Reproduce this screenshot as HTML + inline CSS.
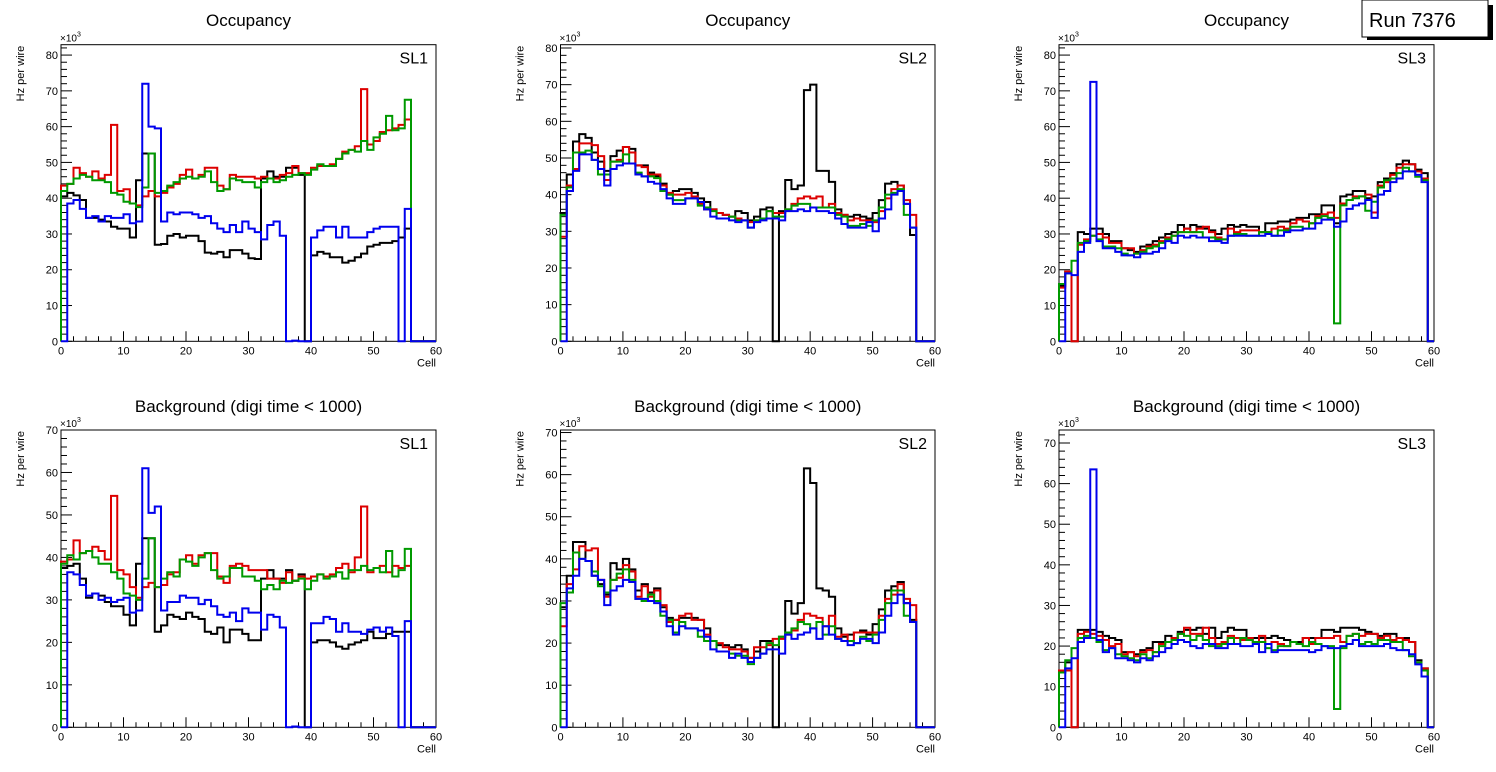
<!DOCTYPE html>
<html><head><meta charset="utf-8"><style>
html,body{margin:0;padding:0;background:#fff;}
svg{display:block;font-family:"Liberation Sans",Arial,sans-serif;}
</style></head><body>
<svg id="c" width="1496" height="772" viewBox="0 0 1496 772" xmlns="http://www.w3.org/2000/svg">
<rect x="0" y="0" width="1496" height="772" fill="#fff"/>
<g>
<rect x="1367" y="5" width="126" height="35" fill="#000"/>
<rect x="1362" y="0" width="126" height="37" fill="#fff" stroke="#000" stroke-width="1"/>
<text x="1369" y="27" font-size="20">Run 7376</text>
</g>
</svg>
<script>
// ---- data (values in units of 10^3 Hz per wire), bins 0..59 ----
const cells = Array.from({length:60},(_,i)=>i);
const xTicks = [0,10,20,30,40,50,60];
const panelTitles = ["Occupancy","Occupancy","Occupancy","Background (digi time < 1000)","Background (digi time < 1000)","Background (digi time < 1000)"];
const slLabels = ["SL1","SL2","SL3","SL1","SL2","SL3"];
const yMaxes = [82.9,80.9,82.9,70,70.6,73.2];

const p1Black=[40.5,41.5,40.8,39.5,34.5,34.5,34,33.5,32,31.5,31.5,29,45,52.5,52.5,27,27.2,29.5,30,29,29.5,29.5,28,24.8,24.5,25,23.5,25.5,25.5,24.5,23.2,23,45.5,47.5,46,46,48.5,48.5,46.5,0,24,25,24.5,23.5,23.5,22,22.5,23.5,24.5,26.5,27,27.5,27.5,28,29,31.5];
const p1Red=[43.5,44,48.5,47,46,47.5,45.5,46.5,60.5,42,42.5,38.5,38,40.5,42,40.5,41.5,43,44,46.5,48,45.5,46.5,48.5,48.5,43.5,42.5,46.5,46,46,46,45.5,46,45.5,45.5,46.5,47,49,47,47,48.5,49,49,49.5,51,53,53.5,54.5,70.5,55,56,58.5,59,59.5,60.5,62];
const p1Green=[42,44,45.5,46.5,46,45,45,44.5,41.5,41,39,38.5,37.5,43,52.5,41.5,42,43.5,44.5,45.5,46,45.5,46,47.5,44.5,42,42.5,45.5,45,44.5,44.5,43,44.5,45.5,44.5,45,46,46.5,47,46.5,48,49.5,49,49,51,52.5,53.5,53,56,53.5,57,58,63,59,59.5,67.5];
const p1Blue=[0,38.5,39.5,37,34.5,35,33.5,35,34.5,34.5,35.5,33,33.5,72,60,59.5,33.5,36,35.5,36,36,35.5,34.5,35,33,31.5,30.5,32.5,30.5,33.5,31.5,30.5,28.5,32.5,33.5,29.5,0,0.2,0,0,29,31,32,32,29,32,29,29,29,30.5,31.5,32,32,32,0,37];

const p2Black=[35,45.5,54.5,56.5,55.5,51.5,49,46.5,50.5,52,53,52.5,48,48,46,45,43,40,41,41.5,41.5,40.5,39,38,36,35,34.5,34,35.5,35,33,34,36,36.5,0,35.5,44,41.5,42.5,68.5,70,46.5,46.5,43.5,36,34.5,34,34.5,34,33.5,35,38.5,43,43.5,42.5,37.5,29];
const p2Red=[28.5,42.5,47,54,54,53.5,50.5,44,49,49.5,53,51.5,48,47.5,45.5,45.5,42.5,40.5,40,40,40.5,39.5,37.5,36,36,35,34.5,34,33.5,33,32.5,33,33.5,35.5,35,35,36,37.5,39,39.5,39,39.5,36.5,37.5,35,34.5,33,33.5,33,33,32.5,35.5,39,41.5,42.5,38.5,34.5];
const p2Green=[34.5,42,51.5,51.5,52,49.5,45.5,45.5,49,49,51,48.5,46,45,45,44.5,41,40,38.5,38.5,39,39,37,36.5,35.5,33.5,33.5,34,33,33,31,33,33.5,35.5,34,34,36,37,37.5,37.5,36.5,36.5,36.5,36.5,34.5,34,31.5,31.5,32,31.5,33,36.5,40,40.5,41.5,34.5,31];
const p2Blue=[0,41,46.5,51,51,49.5,47,42.5,47,48,48.5,48.5,45.5,45,43.5,43,41.5,39,37.5,37.5,39,39,38,36,34,33.5,33.5,33,32.5,33,31,32.5,33,33.5,33.5,33,35.5,35.5,36,35.5,36.5,35.5,35.5,35,33.5,32,31,31,31,32.5,30,33.5,36,40,41,37.5,31];

const p3Black=[15.5,19.5,0,30.5,30,31.5,31.5,30,28,28,26,25.5,25,26.5,27,28,29,30,30.5,32.5,31.5,32.5,32,31.5,31,30,31.5,32.5,32,32.5,32,32,30.5,33,33,33.5,33.5,34,34.5,34.5,35.5,35.5,38,38,33,40.5,41,42,42,40,40.5,44.5,45.5,47,49.5,50.5,49.5,48,47];
const p3Red=[15,19.5,0,27,28.5,29.5,30,29,27.5,27.5,26,26,24.5,25.5,26.5,27,28,29,29.5,30.5,31.5,30.5,31.5,32,30.5,29,28.5,31.5,30.5,31,31,31,30.5,30.5,31.5,32,31.5,33,34,33.5,33,35,35.5,36,34.5,38.5,39.5,40.5,40.5,41,36,43.5,44.5,46.5,48.5,49.5,49.5,47.5,45.5];
const p3Green=[16,19,22.5,27.5,28,29.5,28.5,26.5,26.5,26,24.5,24,24.5,25,26,26.5,27.5,28.5,29.5,30.5,30.5,30.5,30.5,29,29,28.5,28.5,29.5,30,30,29.5,29.5,30.5,30.5,29.5,31,31,32,32,31.5,33,34.5,35,34.5,5,38,39.5,40,40.5,36.5,39,43,45,45.5,47,48.5,47.5,46,45];
const p3Blue=[0,19,18.5,25,27.5,72.5,28,26,26,25,24,24,23.5,24.5,24.5,25,26,28,27.5,29.5,29,29.5,29,29,28,28,27.5,29.5,29.5,29.5,29.5,29.5,29.5,30,29.5,29.5,30.5,31,31,31.5,31.5,33,34,34,32,33.5,37,38,38.5,39.5,34.5,41,42,44.5,45.5,47.5,47.5,46.5,44.5];

const p4Black=[37.5,38,38.5,35,30.5,31.5,31,29.5,28.5,28.5,26.5,24,38.5,44.5,44.5,22.5,24,26.5,26,25.5,27,26,25.5,22.5,22,23.5,20,23,23,22,20.5,20.5,35,37,35,35,37,34.5,36,0,20,20.5,20.5,20,19,18.5,19.5,20,20.5,22.5,21,21,22,22.5,22.5,22.5];
const p4Red=[39,39.5,44,41,41.5,42.5,41.5,39.5,54.5,37,36,33,30.5,33,34,33,33.5,36,36.5,39.5,40.5,38.5,40.5,41,41,35.5,34,38,38.5,38,37,37,37,35,35,34,36.5,34.5,35.5,35,35.5,36,35.5,36,37.5,38.5,36.5,40,52,36.5,37.5,38,36.5,38,37.5,38];
const p4Green=[38.5,40.5,39.5,41,41.5,40,38.5,38.5,36.5,35,31.5,31,30,35,44.5,33,35,36.5,35.5,39.5,39,38,40,41,37,35,35.5,37.5,37.5,35.5,35.5,34.5,32.5,33.5,32.5,34.5,34,34.5,35,32.5,34.5,36,35,35.5,36.5,35,37,37,38,37,37.5,36.5,41.5,35.5,37,42];
const p4Blue=[0,36.5,36,33.5,31,31.5,30,30.5,29.5,30,30.5,27,27.5,61,50.5,52,27.5,29.5,29.5,31,30.5,30.5,29,30,28.5,26.5,26,27,25,28,27,27,23,26.5,26,23.5,0,0.2,0,0,24.5,24.5,26,25.5,22.5,24.5,22.5,22.5,22,23,23.5,22.5,23.5,21.5,0,25];

const p5Black=[28.5,36,44,44,39.5,36,34,31.5,39,37.5,40,37.5,32.5,34,32,33,28.5,26,25.5,26,26,26,25.5,23.5,20.5,19.5,19.5,19,19.5,18.5,16.5,18,20.5,20.5,0,21.5,30,27,29.5,61.5,58,33,32.5,31,23.5,21.5,22,22.5,23,22,24.5,28,32.5,33.5,34.5,29.5,25.5];
const p5Red=[24,34,37.5,43,42,42.5,35,31,35,35.5,38.5,37,31,33.5,31,32.5,29,25,25.5,26.5,27,25.5,25.5,22,20.5,20,19,18.5,18.5,18,16.5,19,19,19.5,21,21,22,23,25.5,27,26.5,26,24,26.5,21.5,22,20.5,22.5,22.5,22.5,22.5,26.5,30.5,31.5,34,30.5,29];
const p5Green=[29.5,32,41.5,40,39.5,37,33.5,32,35,36.5,37.5,35,30.5,30,31.5,30,26.5,25.5,22.5,25,23.5,23.5,21.5,20.5,20.5,18,18,17.5,17,17,15,16.5,17.5,20,19.5,21.5,22.5,23.5,25,24.5,23.5,25,22,24,21,20.5,20.5,20,21.5,20.5,22,25.5,29.5,32.5,32.5,26.5,25];
const p5Blue=[0,33,36,40,39.5,36,35,29,32.5,33.5,35,34.5,30.5,30.5,30,29.5,27.5,24,22,24,23.5,23.5,23,21.5,18.5,18,18,16.5,17.5,16.5,15.5,16.5,17.5,18.5,18.5,17.5,22,21,22,22.5,23.5,21,24,22,21,20.5,19.5,20,21,21,20,22.5,26.5,29.5,31.5,29.5,25];

const p6Black=[13.5,16,0,24,24,24,23.5,22.5,22,21.5,18.5,18.5,18,19,19.5,21,21,22.5,22,23.5,24,24,24.5,23,24.5,22,23.5,24.5,24,24,22,22,22,22,22.5,22,21.5,21,21,22,22,22,24,24,23.5,24.5,24.5,24.5,24,23.5,23,22.5,23,23,22,22,21,16.5,14.5];
const p6Red=[14,14,0,23,23.5,23,22.5,21.5,20,20.5,18,18.5,17.5,18.5,19,18.5,20.5,21,22,23,24.5,23,23,24.5,22,20.5,21,22.5,22,21.5,22,21,22.5,20.5,21,20.5,20,21,20.5,22,20.5,22,22,22,22.5,21,22.5,23,22.5,23,23,22,22.5,21.5,22,21.5,21,16,14.5];
const p6Green=[13.5,16.5,19.5,22,22.5,22,21,19,19.5,18,17.5,17,16.5,18,17,18.5,20,21,21.5,23,22.5,21.5,22.5,21.5,20,20,20.5,22,20.5,22,21.5,21,21,19.5,19,20,20,21,20.5,20,21,20.5,20,20,4.5,19.5,22.5,23,20.5,21,20.5,21.5,21.5,21,21,19,17.5,16,14];
const p6Blue=[0,14.5,17,21,22,63.5,21.5,18.5,19.5,17,17,16.5,16,17,16.5,17.5,18.5,19.5,20.5,21.5,21,20,19.5,20.5,20.5,19.5,19.5,20.5,20.5,20,20,20.5,18.5,20.5,18.5,19,19,19,19,19,18.5,19,20,19.5,19.5,20,20.5,21.5,20,20,20,20,20.5,19.5,19,19,18,15.5,12.5];

const seriesColors=["#000000","#dd0000","#009900","#0000ee"];
const seriesNames=["black","red","green","blue"];
const panelData=[[p1Black,p1Red,p1Green,p1Blue],[p2Black,p2Red,p2Green,p2Blue],[p3Black,p3Red,p3Green,p3Blue],[p4Black,p4Red,p4Green,p4Blue],[p5Black,p5Red,p5Green,p5Blue],[p6Black,p6Red,p6Green,p6Blue]];

const NS="http://www.w3.org/2000/svg";
const svg=document.getElementById('c');
const runBox=svg.lastElementChild;
function mk(tag,attrs,parent){const e=document.createElementNS(NS,tag);for(const k in attrs)e.setAttribute(k,attrs[k]);parent.appendChild(e);return e;}

const padX=[[61,436],[560.5,935],[1059,1434]];
const padY=[[44.7,341.3],[430,727.3]];

panelData.forEach((series,pi)=>{
  const col=pi%3,row=Math.floor(pi/3);
  const [x0,x1]=padX[col];const [yT,yB]=padY[row];
  const ymax=yMaxes[pi];
  const sx=v=>x0+(v/60)*(x1-x0);
  const sy=v=>yB-(v/ymax)*(yB-yT);
  const g=mk('g',{},svg);
  
  
  const t=mk('text',{x:(x0+x1)/2,y:row===0?26:412,'font-size':17,'text-anchor':'middle'},g);
  t.textContent=panelTitles[pi];
  
  
  const fr=mk('rect',{x:x0,y:yT,width:x1-x0,height:yB-yT,fill:'none',stroke:'#000','stroke-width':1},g);
  
  
  // x ticks
  for(let v=0;v<=60;v+=2){
    const major=v%10===0;
    mk('line',{x1:sx(v),x2:sx(v),y1:yB,y2:yB-(major?10:5),stroke:'#000','stroke-width':1},g);
  }
  xTicks.forEach(v=>{
    const tl=mk('text',{x:sx(v),y:yB+13,'font-size':11,'text-anchor':'middle'},g);
    tl.textContent=v;
    
    
  });
  const xt=mk('text',{x:x1,y:yB+25,'font-size':11,'text-anchor':'end'},g);
  xt.textContent='Cell';
  
  
  // y ticks
  for(let v=0;v<=ymax;v+=2){
    const major=v%10===0;
    mk('line',{x1:x0,x2:x0+(major?11:6),y1:sy(v),y2:sy(v),stroke:'#000','stroke-width':1},g);
    if(major){
      const yl=mk('text',{x:x0-3,y:sy(v)+4,'font-size':11,'text-anchor':'end'},g);
      yl.textContent=v;
      
      
    }
  }
  const ex=mk('text',{x:x0-1,y:yT-3,'font-size':10},g);
  ex.innerHTML='×10<tspan dy="-5" font-size="7">3</tspan>';
  
  
  const yt=mk('text',{x:0,y:0,'font-size':11,'text-anchor':'end',transform:`translate(${x0-37},${yT+1}) rotate(-90)`},g);
  yt.textContent='Hz per wire';
  
  
  const sl=mk('text',{x:x1-8,y:yT+19,'font-size':16,'text-anchor':'end'},g);
  sl.textContent=slLabels[pi];
  
  
  // series
  series.forEach((vals,si)=>{
    let d=`M${sx(0)},${sy(0)}`;
    cells.forEach(c=>{
      const v=c<vals.length?vals[c]:0;
      d+=` L${sx(c)},${sy(v)} L${sx(c+1)},${sy(v)}`;
    });
    d+=` L${sx(60)},${sy(0)}`;
    const p=mk('path',{d:d,fill:'none',stroke:seriesColors[si],'stroke-width':2,'stroke-linejoin':'miter'},g);
    
    
  });
});
svg.appendChild(runBox);
</script>
</body></html>
